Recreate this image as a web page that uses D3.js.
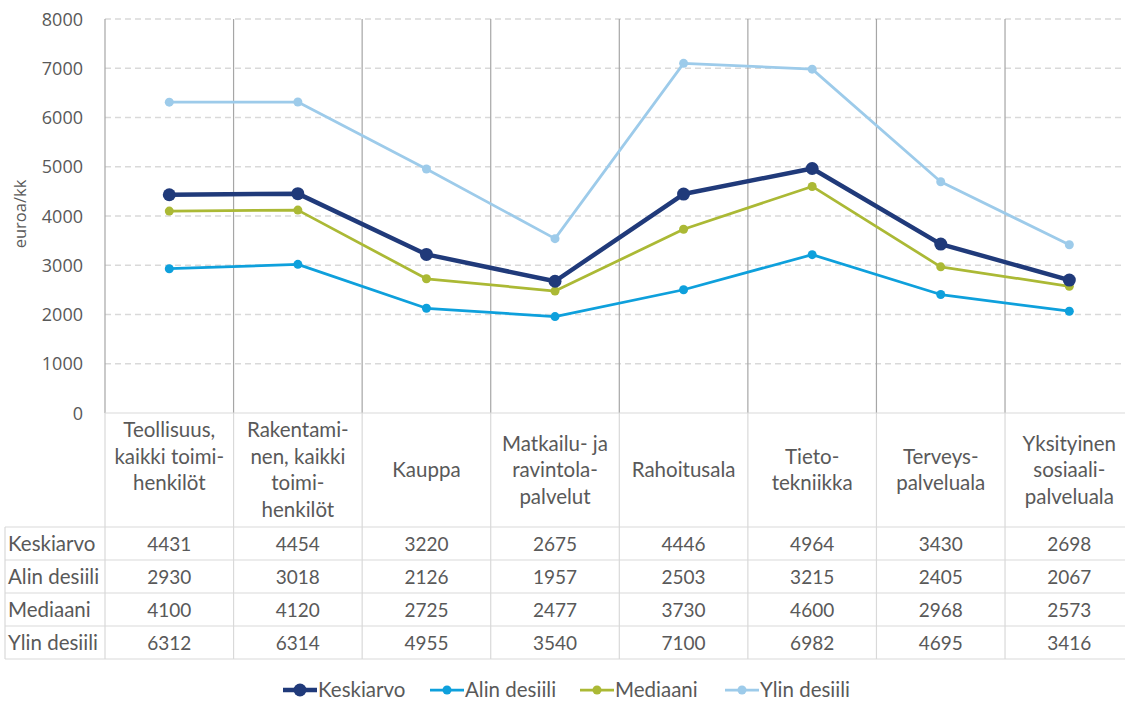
<!DOCTYPE html>
<html>
<head>
<meta charset="utf-8">
<script src="https://cdn.jsdelivr.net/npm/d3@7"></script>
<style>
  body { margin: 0; background: #fff; }
  svg { display: block; font-family: Lato, "Open Sans", sans-serif; }
</style>
</head>
<body>
<svg id="chart" width="1125" height="702"></svg>
<script>
// data
var categories = ["Teollisuus", "Rakentaminen", "Kauppa", "Matkailu", "Rahoitusala", "Tietotekniikka", "Terveys", "Sosiaali"];
var categoryLines = [
  ["Teollisuus,", "kaikki toimi-", "henkilöt", ""],
  ["Rakentami-", "nen, kaikki", "toimi-", "henkilöt"],
  ["Kauppa"],
  ["Matkailu- ja", "ravintola-", "palvelut"],
  ["Rahoitusala"],
  ["Tieto-", "tekniikka"],
  ["Terveys-", "palveluala"],
  ["Yksityinen", "sosiaali-", "palveluala"]
];
var seriesNames = ["Keskiarvo", "Alin desiili", "Mediaani", "Ylin desiili"];
var keskiarvo = [4431, 4454, 3220, 2675, 4446, 4964, 3430, 2698];
var alinDesiili = [2930, 3018, 2126, 1957, 2503, 3215, 2405, 2067];
var mediaani = [4100, 4120, 2725, 2477, 3730, 4600, 2968, 2573];
var ylinDesiili = [6312, 6314, 4955, 3540, 7100, 6982, 4695, 3416];
var yTicks = [0, 1000, 2000, 3000, 4000, 5000, 6000, 7000, 8000];

var chart = {
  left: 105, right: 1133.6, plotTop: 19, plotBottom: 413,
  headBottom: 527, rowH: 33, tableLeft: 5,
  textColor: "#595959",
  colors: ["#203a7a", "#0ea0dc", "#abb935", "#9dcbea"],
  widths: [4.5, 2.75, 2.75, 2.75],
  radii: [6.5, 4.5, 4.5, 4.5],

  draw: function() {
    var self = this;
    var svg = d3.select("#chart");
    var seriesValues = [keskiarvo, alinDesiili, mediaani, ylinDesiili];

    var x = d3.scaleBand().domain(categories).range([this.left, this.right]);
    var y = d3.scaleLinear().domain([0, 8000]).range([this.plotBottom, this.plotTop]);
    var cx = (d, i) => x(categories[i]) + x.bandwidth() / 2;

    // horizontal grid (dashed)
    svg.append("g").selectAll("line").data(yTicks.filter(d => d > 0)).enter().append("line")
      .attr("x1", this.left).attr("x2", this.right)
      .attr("y1", d => y(d)).attr("y2", d => y(d))
      .style("stroke", "#d9d9d9").style("stroke-width", 1.3)
      .style("stroke-dasharray", "6,4");

    // y tick labels
    svg.append("g").selectAll("text").data(yTicks).enter().append("text")
      .attr("x", 83).attr("y", d => y(d) + 6.5)
      .attr("text-anchor", "end")
      .style("font-family", "'Open Sans', sans-serif")
      .style("font-size", "18px")
      .style("fill", this.textColor)
      .text(d => d);

    // y axis title
    svg.append("text")
      .attr("transform", "translate(26,214) rotate(-90)")
      .attr("text-anchor", "middle")
      .style("font-family", "'Open Sans', sans-serif")
      .style("font-size", "16.5px")
      .style("fill", this.textColor)
      .text("euroa/kk");

    // column dividers in the plot area
    var bounds = categories.map(c => x(c)).concat([this.right]);
    svg.append("g").selectAll("line").data(bounds).enter().append("line")
      .attr("x1", d => d).attr("x2", d => d)
      .attr("y1", this.plotTop).attr("y2", this.plotBottom)
      .style("stroke", "#a6a6a6").style("stroke-width", 1.2);

    // table grid
    var tableBottom = this.headBottom + seriesNames.length * this.rowH;
    var tg = svg.append("g").style("stroke", "#d9d9d9").style("stroke-width", 1.2);
    tg.append("line").attr("x1", this.left).attr("x2", this.right)
      .attr("y1", this.plotBottom).attr("y2", this.plotBottom);
    for (var r = 0; r <= seriesNames.length; r++) {
      tg.append("line").attr("x1", this.tableLeft).attr("x2", this.right)
        .attr("y1", this.headBottom + r * this.rowH).attr("y2", this.headBottom + r * this.rowH);
    }
    tg.append("line").attr("x1", this.tableLeft).attr("x2", this.tableLeft)
      .attr("y1", this.headBottom).attr("y2", tableBottom);
    bounds.forEach(function(b) {
      tg.append("line").attr("x1", b).attr("x2", b).attr("y1", self.plotBottom).attr("y2", tableBottom);
    });

    // category labels
    var lineH = 26.5, headMid = (this.plotBottom + this.headBottom) / 2;
    categories.forEach(function(c, i) {
      var lines = categoryLines[i];
      var t = svg.append("text")
        .attr("text-anchor", "middle")
        .style("font-size", "20.5px")
        .style("fill", self.textColor);
      lines.forEach(function(l, j) {
        t.append("tspan")
          .attr("x", x(c) + x.bandwidth() / 2)
          .attr("y", headMid + (j - (lines.length - 1) / 2) * lineH + 7)
          .text(l);
      });
    });

    // table rows
    seriesNames.forEach(function(name, r) {
      var ty = self.headBottom + r * self.rowH + self.rowH / 2 + 7;
      svg.append("text").attr("x", 8).attr("y", ty)
        .style("font-size", "20.5px").style("fill", self.textColor).text(name);
      svg.append("g").selectAll("text").data(seriesValues[r]).enter().append("text")
        .attr("x", cx)
        .attr("y", ty)
        .attr("text-anchor", "middle")
        .style("font-size", "19px").style("fill", self.textColor)
        .text(d => d);
    });

    // lines and markers, Keskiarvo last so it sits on top
    var line = d3.line().x(cx).y(d => y(d));
    [3, 2, 1, 0].forEach(function(s) {
      var g = svg.append("g");
      g.append("path").datum(seriesValues[s])
        .attr("d", line)
        .style("fill", "none")
        .style("stroke", self.colors[s])
        .style("stroke-width", self.widths[s])
        .style("stroke-linejoin", "round");
      g.selectAll("circle").data(seriesValues[s]).enter().append("circle")
        .attr("cx", cx)
        .attr("cy", d => y(d))
        .attr("r", self.radii[s])
        .style("fill", self.colors[s]);
    });

    // legend
    var legendX = [283, 430, 580, 725];
    seriesNames.forEach(function(name, s) {
      var g = svg.append("g").attr("transform", "translate(" + legendX[s] + ",690)");
      g.append("line").attr("x1", 0).attr("x2", 34).attr("y1", 0).attr("y2", 0)
        .style("stroke", self.colors[s]).style("stroke-width", self.widths[s]);
      g.append("circle").attr("cx", 17).attr("cy", 0).attr("r", self.radii[s]).style("fill", self.colors[s]);
      g.append("text").attr("x", 35).attr("y", 7)
        .style("font-size", "20.5px").style("fill", self.textColor).text(name);
    });
  }
};

chart.draw();
</script>
</body>
</html>
